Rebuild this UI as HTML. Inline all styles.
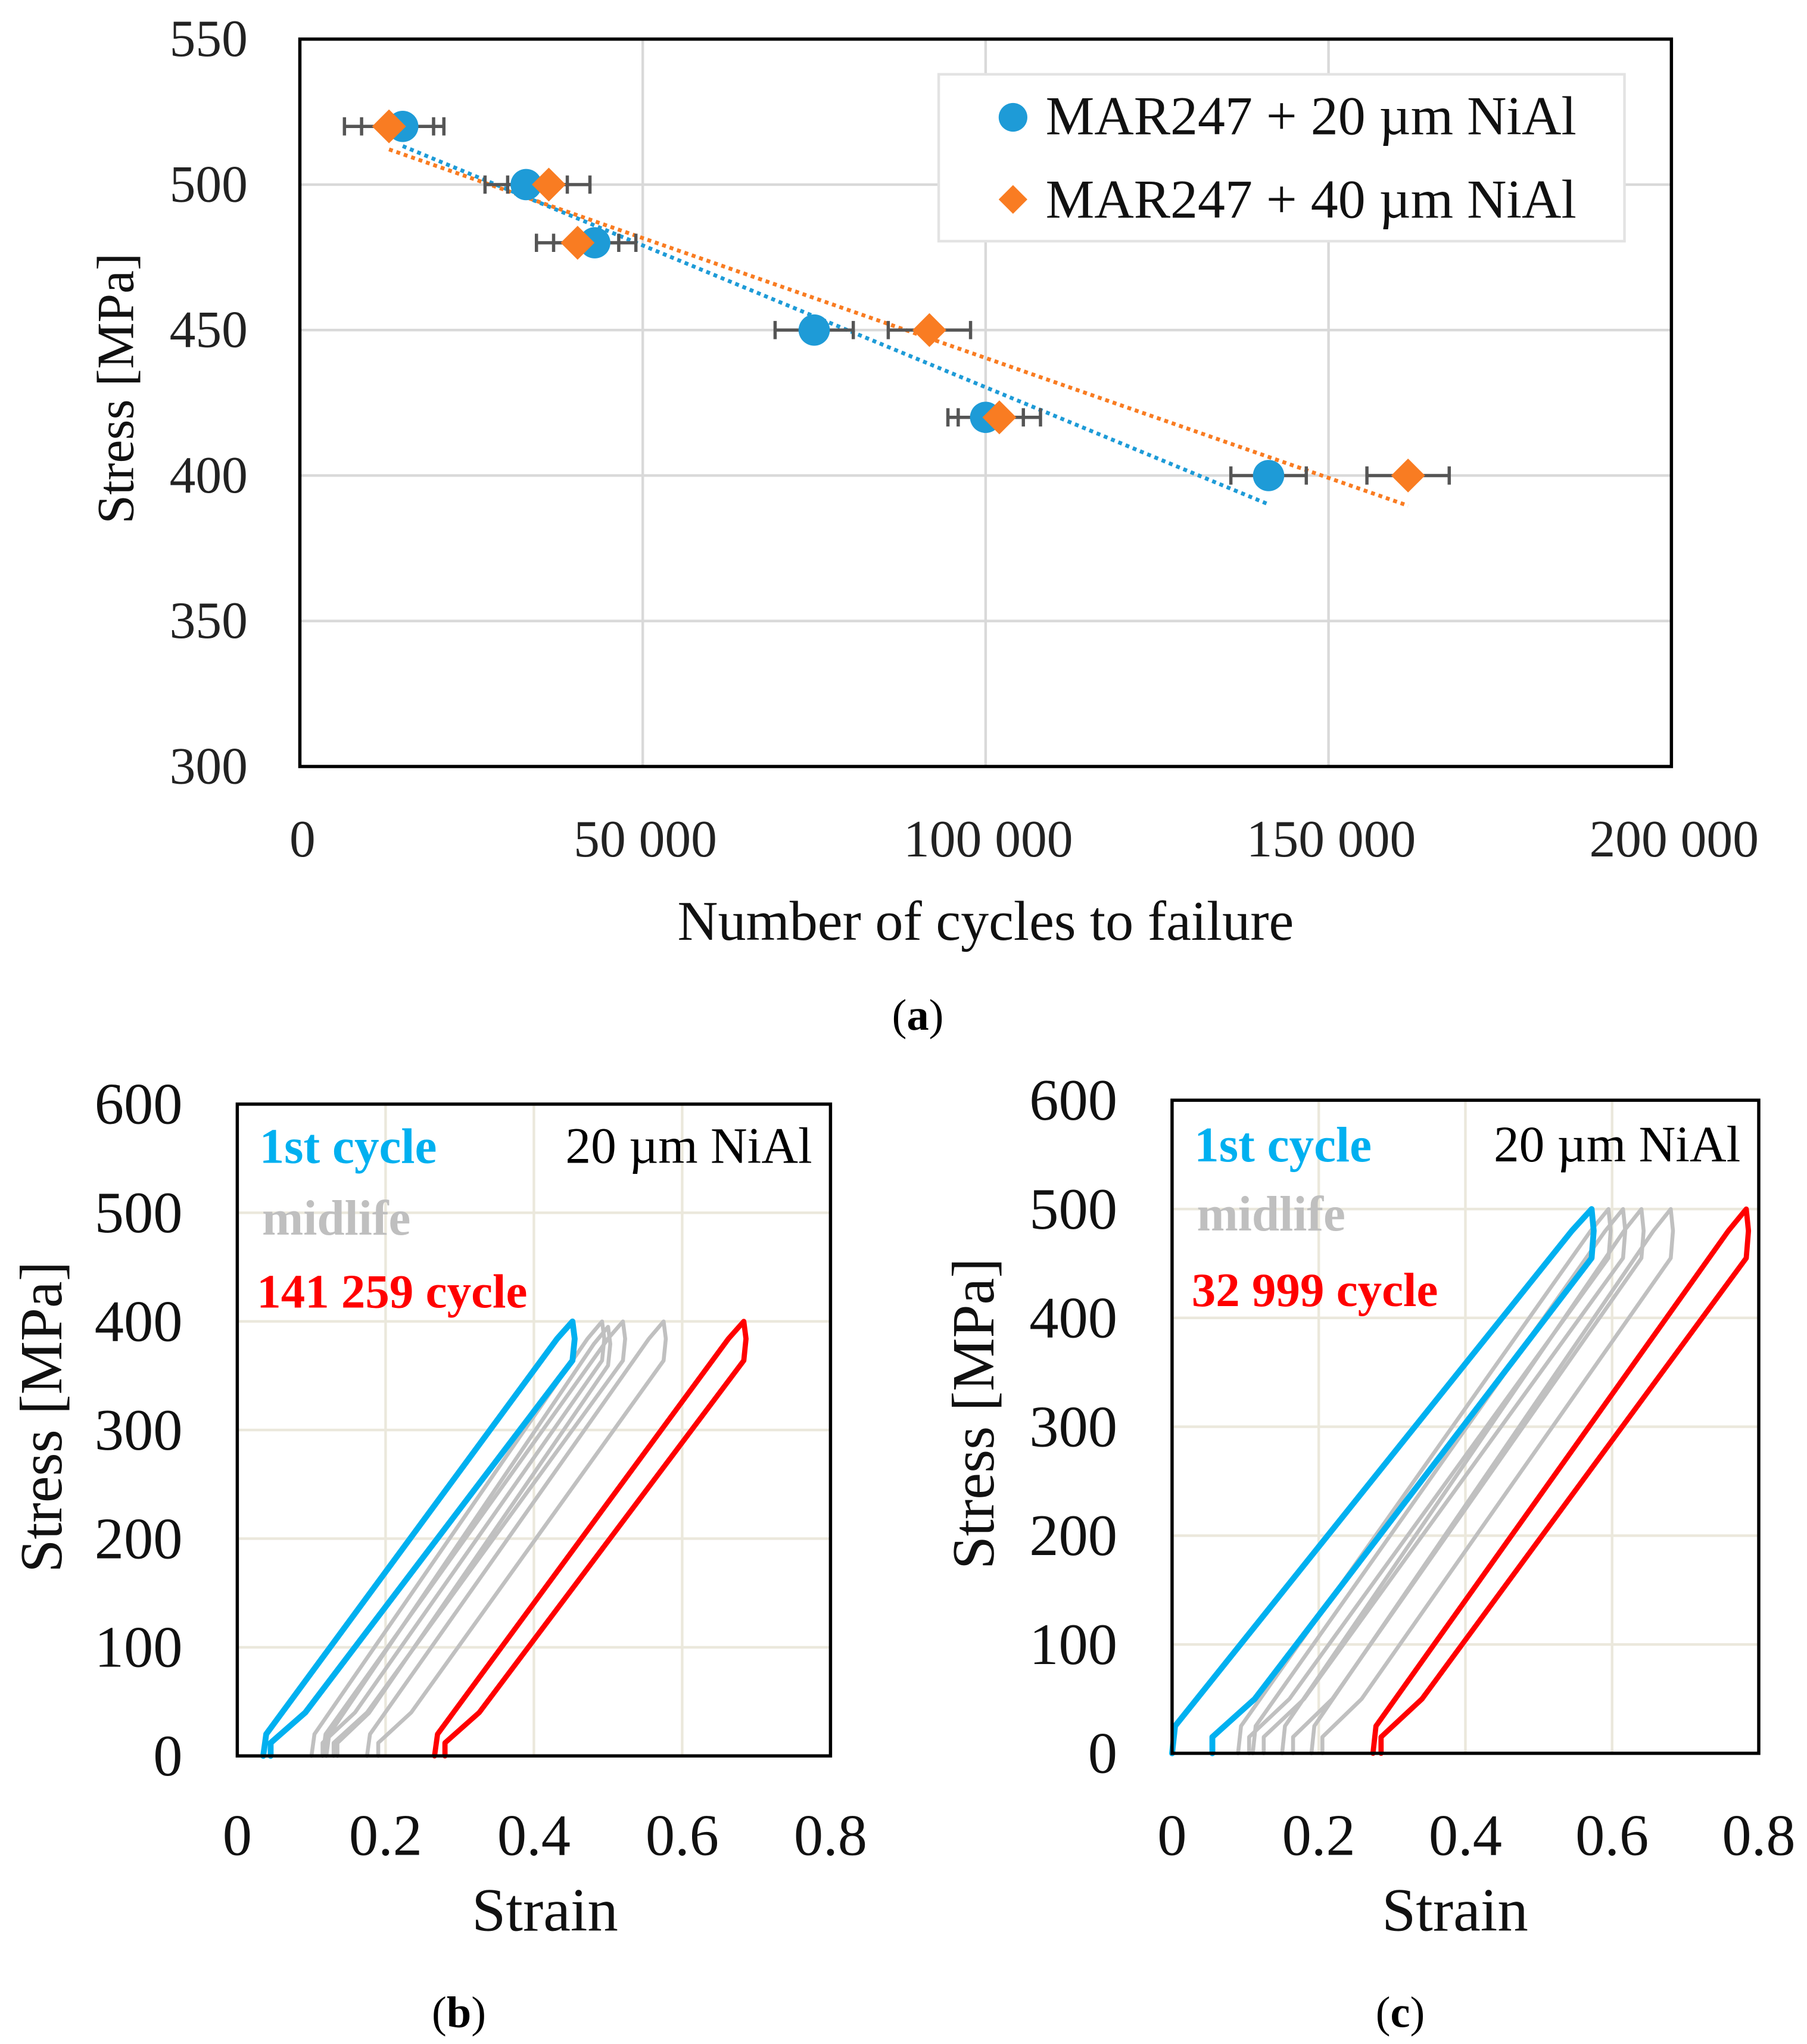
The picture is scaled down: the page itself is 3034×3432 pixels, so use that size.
<!DOCTYPE html>
<html><head><meta charset="utf-8"><style>
html,body{margin:0;padding:0;background:#fff;}
svg{display:block;}
text{font-family:"Liberation Serif",serif;}
</style></head><body>
<svg id="fig" width="3034" height="3432" viewBox="0 0 1386 1568" preserveAspectRatio="none" xmlns="http://www.w3.org/2000/svg">
<rect x="0" y="0" width="1386" height="1568" fill="#fff"/>
<g id="ga"></g>
<g id="gb"></g>
<g id="gc"></g>
<text x="704" y="790" font-size="34" text-anchor="middle">(<tspan font-weight="bold">a</tspan>)</text>
<text x="352" y="1555" font-size="34" text-anchor="middle">(<tspan font-weight="bold">b</tspan>)</text>
<text x="1074" y="1555" font-size="34" text-anchor="middle">(<tspan font-weight="bold">c</tspan>)</text>
</svg>
<script>
// ---- Chart (a) data ----
const aYTicks = [300, 350, 400, 450, 500, 550];
const aXTicks = [0, 50000, 100000, 150000, 200000];
const aXTickLabels = ["0", "50 000", "100 000", "150 000", "200 000"];
const blueStress = [520, 500, 480, 450, 420, 400];
const blueCycles = [15000, 33000, 43000, 75000, 100000, 141259];
const blueErr = [6000, 6000, 6000, 5700, 5500, 5500];
const orangeStress = [520, 500, 480, 450, 420, 400];
const orangeCycles = [13000, 36300, 40500, 91800, 102000, 161600];
const orangeErr = [6500, 6000, 6000, 6000, 6000, 6000];
// ---- Chart (b)/(c) data ----
const hTicksY = [0, 100, 200, 300, 400, 500, 600];
const hTicksX = [0, 0.2, 0.4, 0.6, 0.8];
const hTickLabelsX = ["0", "0.2", "0.4", "0.6", "0.8"];
// loops: [leftBottomStrain, rightBottomStrain, peakStrain, peakStress]
const bBlue = [[0.035, 0.045, 0.452, 400]];
const bGray = [[0.10, 0.115, 0.492, 400], [0.115, 0.13, 0.52, 400], [0.175, 0.19, 0.575, 400], [0.12, 0.135, 0.50, 395]];
const bRed = [[0.266, 0.28, 0.683, 400]];
const cBlue = [[0.0, 0.055, 0.572, 500]];
const cGray = [[0.09, 0.105, 0.595, 500], [0.11, 0.125, 0.615, 500], [0.15, 0.165, 0.64, 500], [0.19, 0.205, 0.68, 500]];
const cRed = [[0.274, 0.285, 0.783, 500]];

const NS = "http://www.w3.org/2000/svg";
function mk(tag, attrs, parent){ const e=document.createElementNS(NS,tag); for(const k in attrs) e.setAttribute(k,attrs[k]); parent.appendChild(e); return e; }

// ===== Chart A =====
(function(){
  const g=document.getElementById('ga');
  const L=230,R=1282,T=30,B=588;
  const xs=v=>L+(v-0)/(200000)*(R-L);
  const ys=v=>B-(v-300)/250*(B-T);
  aYTicks.forEach(t=>{
    if(t>300&&t<550){ const l=mk('line',{x1:L,x2:R,y1:ys(t),y2:ys(t),stroke:'#d9d9d9','stroke-width':2},g);
        }
    const tx=mk('text',{x:190,y:ys(t)+13,'font-size':40,'text-anchor':'end',fill:'#222'},g); tx.textContent=t;
     
  });
  aXTicks.forEach((t,i)=>{
    if(t>0&&t<200000){ const l=mk('line',{x1:xs(t),x2:xs(t),y1:T,y2:B,stroke:'#d9d9d9','stroke-width':2},g);
        }
    const tx=mk('text',{x:xs(t)+2,y:657,'font-size':40,'text-anchor':'middle',fill:'#222'},g); tx.textContent=aXTickLabels[i];
     
  });
  const fr=mk('rect',{x:L,y:T,width:R-L,height:B-T,fill:'none',stroke:'#000','stroke-width':2.5},g);
   
  const xt=mk('text',{x:756,y:721,'font-size':43,'text-anchor':'middle',fill:'#111'},g); xt.textContent='Number of cycles to failure';
   
  const yt=mk('text',{x:0,y:0,'font-size':40,'text-anchor':'middle',fill:'#111',transform:'translate(102,298) rotate(-90)'},g); yt.textContent='Stress [MPa]';
   

  function trend(X,Y,color,name){
    const n=X.length; let sx=0,sy=0,sxx=0,sxy=0;
    for(let i=0;i<n;i++){sx+=X[i];sy+=Y[i];sxx+=X[i]*X[i];sxy+=X[i]*Y[i];}
    const m=(n*sxy-sx*sy)/(n*sxx-sx*sx), b=(sy-m*sx)/n;
    const x0=Math.min(...X), x1=Math.max(...X);
    const l=mk('line',{x1:xs(x0),y1:ys(m*x0+b),x2:xs(x1),y2:ys(m*x1+b),stroke:color,'stroke-width':3,'stroke-dasharray':'3 3'},g);
     
  }
  function errs(X,Y,E,name){
    for(let i=0;i<X.length;i++){
      const y=ys(Y[i]), a=xs(X[i]-E[i]), c=xs(X[i]+E[i]);
      const p=mk('path',{d:`M${a},${y}H${c}M${a},${y-7}V${y+7}M${c},${y-7}V${y+7}`,stroke:'#555','stroke-width':2.5,fill:'none'},g);
       
    }
  }
  trend(blueCycles,blueStress,'#1e9bd7','trendline-20um');
  trend(orangeCycles,orangeStress,'#f97c22','trendline-40um');
  errs(blueCycles,blueStress,blueErr,'error-bar-20um');
  errs(orangeCycles,orangeStress,orangeErr,'error-bar-40um');
  for(let i=0;i<blueCycles.length;i++){
    const c=mk('circle',{cx:xs(blueCycles[i]),cy:ys(blueStress[i]),r:12,fill:'#1e9bd7'},g);
     
  }
  for(let i=0;i<orangeCycles.length;i++){
    const x=xs(orangeCycles[i]), y=ys(orangeStress[i]);
    const d=mk('path',{d:`M${x},${y-13}L${x+13},${y}L${x},${y+13}L${x-13},${y}Z`,fill:'#f97c22'},g);
     
  }
  const lg=mk('g',{},g);  
  mk('rect',{x:720,y:57,width:526,height:128,fill:'#fff',stroke:'#e3e3e3','stroke-width':2},lg);
  const lc=mk('circle',{cx:777,cy:90,r:11,fill:'#1e9bd7'},lg);  
  const lt1=mk('text',{x:802,y:103,'font-size':42,fill:'#111'},lg); lt1.textContent='MAR247 + 20 µm NiAl';
   
  const ld=mk('path',{d:'M777,142L788,153L777,164L766,153Z',fill:'#f97c22'},lg);  
  const lt2=mk('text',{x:802,y:167,'font-size':42,fill:'#111'},lg); lt2.textContent='MAR247 + 40 µm NiAl';
   
})();

// ===== Hysteresis charts =====
function hyst(gid,L,R,T,B,ytx,xty,ytitleX,xtitleX,redLabel,blue,gray,red,lblY){
  const g=document.getElementById(gid);
  const xs=v=>L+v/0.8*(R-L);
  const ys=v=>B-v/600*(B-T);
  hTicksY.forEach(t=>{
    if(t>0&&t<600){ const l=mk('line',{x1:L,x2:R,y1:ys(t),y2:ys(t),stroke:'#ebe8dc','stroke-width':2},g);
        }
    const tx=mk('text',{x:ytx,y:ys(t)+15,'font-size':45,'text-anchor':'end',fill:'#111'},g); tx.textContent=t;
     
  });
  hTicksX.forEach((t,i)=>{
    if(t>0&&t<0.8){ const l=mk('line',{x1:xs(t),x2:xs(t),y1:T,y2:B,stroke:'#ebe8dc','stroke-width':2},g);
        }
    const tx=mk('text',{x:xs(t),y:xty,'font-size':45,'text-anchor':'middle',fill:'#111'},g); tx.textContent=hTickLabelsX[i];
     
  });
  function loops(arr,color,w,name){
    arr.forEach(p=>{
      const [s0,s1,sp,P]=p;
      const lx=f=>s0+f*(sp-s0);
      const rx=f=>lx(f)+(1-f)*(s1-s0)+0.006;
      const pts=[[s0,0],[s0+0.004,0.05*P],[lx(0.96)-0.004,0.96*P],[sp,P],[sp+0.003,0.96*P],[sp,0.91*P],[rx(0.1),0.1*P],[s1,0.03*P],[s1,0]];
      const d='M'+pts.map(q=>xs(q[0]).toFixed(1)+','+ys(q[1]).toFixed(1)).join('L');
      const e=mk('path',{d:d,fill:'none',stroke:color,'stroke-width':w,'stroke-linejoin':'round','stroke-linecap':'round'},g);
       
    });
  }
  loops(gray,'#c0c0c0',3,'midlife-loop');
  loops(blue,'#00b0f0',4.5,'first-cycle-loop');
  loops(red,'#ff0000',4,'final-cycle-loop');
  const fr=mk('rect',{x:L,y:T,width:R-L,height:B-T,fill:'none',stroke:'#000','stroke-width':2.5},g);
   
  const l1=mk('text',{x:L+17,y:lblY[0],'font-size':38,'font-weight':'bold',fill:'#00b0f0'},g); l1.textContent='1st cycle';
   
  const l2=mk('text',{x:L+19,y:lblY[1],'font-size':38,'font-weight':'bold',fill:'#bfbfbf'},g); l2.textContent='midlife';
   
  const l3=mk('text',{x:L+15,y:lblY[2],'font-size':37,'font-weight':'bold',fill:'#ff0000'},g); l3.textContent=redLabel;
   
  const l4=mk('text',{x:R-14,y:lblY[0],'font-size':39,'text-anchor':'end',fill:'#000'},g); l4.textContent='20 µm NiAl';
   
  const xt=mk('text',{x:xtitleX,y:1481,'font-size':47,'text-anchor':'middle',fill:'#111'},g); xt.textContent='Strain';
   
  const yt=mk('text',{x:0,y:0,'font-size':46,'text-anchor':'middle',fill:'#111',transform:`translate(${ytitleX},${(T+B)/2-10}) rotate(-90)`},g); yt.textContent='Stress [MPa]';
   
}
hyst('gb',182,637,847,1347,140,1423,47,418,'141 259 cycle',bBlue,bGray,bRed,[892,947,1003]);
hyst('gc',899,1349,844,1345,857,1423,762,1116,'32 999 cycle',cBlue,cGray,cRed,[891,944,1002]);
</script>
</body></html>
